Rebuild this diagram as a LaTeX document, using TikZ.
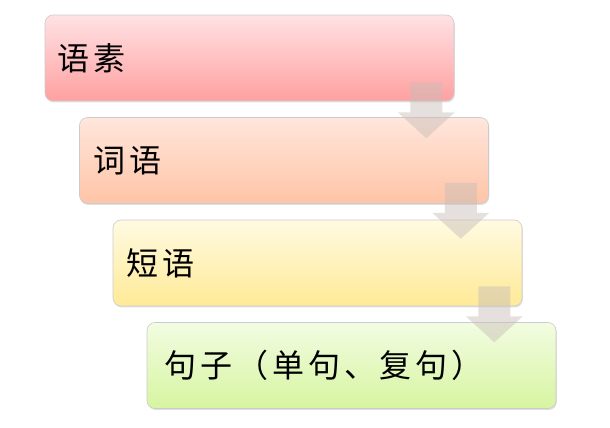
\documentclass[tikz,border=0pt]{standalone}
\usepackage{fontspec}
\newfontfamily\cjk[LetterSpace=12]{Noto Sans CJK SC}
\usetikzlibrary{calc,shadows}
\definecolor{topA}{RGB}{255,226,228}
\definecolor{botA}{RGB}{255,160,160}
\definecolor{topB}{RGB}{255,230,220}
\definecolor{botB}{RGB}{255,196,166}
\definecolor{topC}{RGB}{255,250,226}
\definecolor{botC}{RGB}{255,234,150}
\definecolor{topD}{RGB}{242,252,226}
\definecolor{botD}{RGB}{214,245,160}
\definecolor{arrowc}{RGB}{200,190,184}
\tikzset{
  box/.style={rounded corners=8pt, minimum width=409pt, minimum height=86pt,
    draw=black!20, line width=0.6pt, inner sep=0pt,
    drop shadow={shadow xshift=0.8pt, shadow yshift=-1.5pt, opacity=0.25}},
  boxtext/.style={anchor=west, font=\cjk\fontsize{32}{32}\selectfont, inner sep=0pt},
  flowarrow/.style={fill=arrowc, fill opacity=0.48, draw=none}
}
\newcommand{\downarrowshape}[1]{%
  \fill[flowarrow] ($(#1)+(-16pt,0)$) -- ++(32pt,0) -- ++(0,-30pt) -- ++(12.5pt,0)
    -- ++(-28.5pt,-26pt) -- ++(-28.5pt,26pt) -- ++(12.5pt,0) -- cycle;}
\begin{document}
\begin{tikzpicture}[x=1pt,y=1pt]
\useasboundingbox (0,0) rectangle (610,428);
\node[box, top color=topA, bottom color=botA] (b1) at (249.5,370) {};
\node[box, top color=topB, bottom color=botB] (b2) at (284,267.5) {};
\node[box, top color=topC, bottom color=botC] (b3) at (317.5,165) {};
\node[box, top color=topD, bottom color=botD] (b4) at (351.5,62.5) {};
\node[boxtext] (t1) at ($(b1.west)+(13,0)$) {语素};
\node[boxtext] (t2) at ($(b2.west)+(14,0)$) {词语};
\node[boxtext] (t3) at ($(b3.west)+(14,0)$) {短语};
\node[boxtext] (t4) at ($(b4.west)+(18,0)$) {句子（单句、复句）};
\coordinate (a1) at ($(b1.south east)+(-28,19)$);
\coordinate (a2) at ($(b2.south east)+(-28,21)$);
\coordinate (a3) at ($(b3.south east)+(-28,20)$);
\downarrowshape{a1}
\downarrowshape{a2}
\downarrowshape{a3}
\end{tikzpicture}
\end{document}
